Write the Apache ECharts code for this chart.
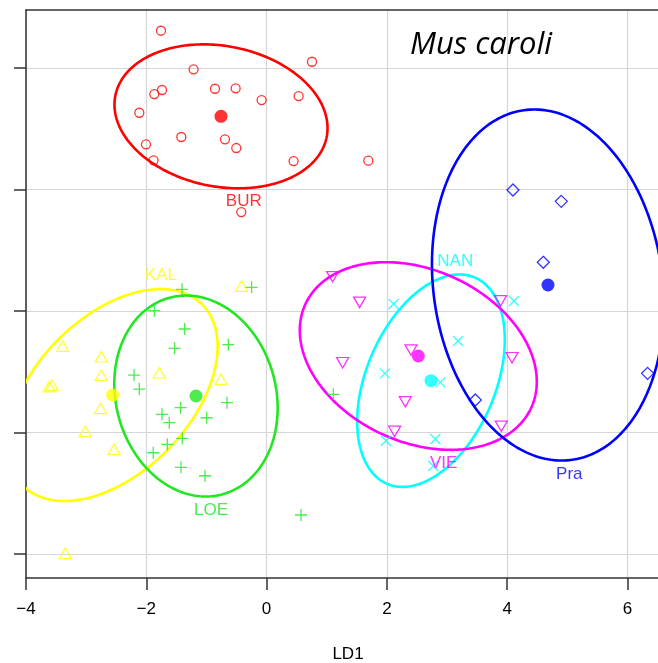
<!DOCTYPE html>
<html>
<head>
<meta charset="utf-8">
<script src="https://cdn.jsdelivr.net/npm/echarts@6/dist/echarts.min.js"></script>
<style>
html,body{margin:0;padding:0;background:#fff;overflow:hidden;}
#chart{width:658px;height:663px;}
</style>
</head>
<body>
<div id="chart"></div>
<script>
// ---- data ----
const groupNames = ['BUR', 'KAL', 'LOE', 'NAN', 'VIE', 'Pra'];

const burX = [-1.756, -1.214, 0.755, -1.867, -1.739, -0.858, -0.515, -0.083, 0.532, -2.116, -1.418, -0.692, -0.504, -2.005, -1.879, 0.449, -0.421, 1.691];
const burY = [4.610, 3.975, 4.100, 3.569, 3.635, 3.656, 3.663, 3.470, 3.536, 3.261, 2.862, 2.824, 2.681, 2.742, 2.479, 2.467, 1.628, 2.472];

const kalX = [-0.416, -3.391, -2.748, -2.748, -1.784, -3.613, -3.568, -0.758, -2.760, -3.014, -2.537, -3.347];
const kalY = [0.411, -0.576, -0.752, -1.053, -1.015, -1.245, -1.222, -1.123, -1.600, -1.979, -2.275, -3.985];

const loeX = [-1.406, -0.249, -1.867, -1.363, -1.530, -0.637, -2.204, -2.116, -1.430, -1.739, -1.618, -0.998, -0.658, -1.401, -1.651, -1.884, -1.423, -1.024, 0.572, 1.109];
const loeY = [0.357, 0.390, 0.005, -0.296, -0.613, -0.554, -1.053, -1.283, -1.590, -1.699, -1.837, -1.755, -1.508, -2.094, -2.192, -2.331, -2.571, -2.709, -3.355, -1.370];

const nanX = [2.111, 4.113, 3.182, 1.968, 2.888, 1.985, 2.805, 2.771];
const nanY = [0.115, 0.164, -0.493, -1.025, -1.173, -2.133, -2.105, -2.550];

const vieX = [1.097, 1.546, 3.890, 2.401, 1.264, 4.080, 2.306, 2.128, 3.902];
const vieY = [0.564, 0.143, 0.169, -0.641, -0.850, -0.768, -1.492, -1.979, -1.896];

const praX = [4.096, 4.899, 4.600, 3.470, 6.334];
const praY = [1.990, 1.804, 0.801, -1.464, -1.025];

// group means (filled dots) and ellipse shape (sd-like half widths, correlation)
const meanX = [-0.758, -2.560, -1.174, 2.733, 2.522, 4.678];
const meanY = [3.202, -1.382, -1.398, -1.146, -0.740, 0.428];
const ellSx = [1.771, 1.746, 1.358, 1.227, 1.970, 1.929];
const ellSy = [1.184, 1.743, 1.653, 1.747, 1.543, 2.887];
const ellRho = [-0.163, 0.458, -0.120, 0.385, -0.273, -0.118];

// group label positions
const labelX = [-0.379, -1.756, -0.924, 3.137, 2.943, 5.032];
const labelY = [1.798, 0.592, -3.285, 0.811, -2.505, -2.686];

const xTicks = [-4, -2, 0, 2, 4, 6];
const yTicks = [-4, -2, 0, 2, 4];
const titleText = 'Mus caroli';
const xName = 'LD1';

// ---- styling ----
const colors = ['#ff0000', '#ffff00', '#22e622', '#00ffff', '#ff00ff', '#0000ff'];
const pointsX = [burX, kalX, loeX, nanX, vieX, praX];
const pointsY = [burY, kalY, loeY, nanY, vieY, praY];
const symbols = [
  'circle',
  'triangle',
  'path://M6,0V12M0,6H12',
  'path://M0,0L10,10M10,0L0,10',
  'path://M0,0L12,0L6,10.4Z',
  'diamond'
];
const symSizes = [9, [12, 10.5], 12, 10, [12, 10.4], 12];

const FONT = '"Liberation Sans", Arial, sans-serif';
const series = [];

// ellipses
groupNames.forEach(function (g, i) {
  series.push({
    type: 'custom',
    name: g + ' ellipse',
    clip: true,
    silent: true,
    z: 2,
    data: [[meanX[i], meanY[i], ellSx[i], ellSy[i], ellRho[i]]],
    encode: { x: 0, y: 1 },
    renderItem: function (params, api) {
      const cx = api.value(0), cy = api.value(1);
      const sx = api.value(2), sy = api.value(3), r = api.value(4);
      const q = Math.sqrt(1 - r * r);
      const pts = [];
      for (let k = 0; k < 240; k++) {
        const t = 2 * Math.PI * k / 240;
        pts.push(api.coord([cx + sx * Math.cos(t), cy + sy * (r * Math.cos(t) + q * Math.sin(t))]));
      }
      return {
        type: 'polygon',
        shape: { points: pts },
        style: { fill: 'none', stroke: colors[i], lineWidth: 2.6 }
      };
    }
  });
});

// points
groupNames.forEach(function (g, i) {
  series.push({
    type: 'scatter',
    name: g,
    z: 3,
    symbol: symbols[i],
    symbolSize: symSizes[i],
    data: pointsX[i].map(function (x, k) { return [x, pointsY[i][k]]; }),
    itemStyle: { color: 'rgba(0,0,0,0)', borderColor: colors[i], borderWidth: 1.3 },
    emphasis: { disabled: true }
  });
});

// group means
series.push({
  type: 'scatter',
  name: 'means',
  z: 4,
  symbol: 'circle',
  symbolSize: 13,
  data: meanX.map(function (x, i) { return { value: [x, meanY[i]], itemStyle: { color: colors[i] } }; }),
  emphasis: { disabled: true }
});

// group labels
series.push({
  type: 'scatter',
  name: 'labels',
  z: 5,
  symbolSize: 0,
  data: labelX.map(function (x, i) {
    return {
      value: [x, labelY[i]],
      name: groupNames[i],
      label: { color: colors[i] }
    };
  }),
  label: {
    show: true,
    position: 'inside',
    formatter: '{b}',
    fontFamily: FONT,
    fontSize: 17
  },
  emphasis: { disabled: true }
});

const chart = echarts.init(document.getElementById('chart'), null, { renderer: 'canvas' });
chart.setOption({
  backgroundColor: '#ffffff',
  animation: false,
  title: {
    text: titleText,
    left: 410,
    top: 30,
    padding: 0,
    textStyle: {
      fontFamily: '"Open Sans", sans-serif',
      fontStyle: 'italic',
      fontWeight: 'normal',
      fontSize: 31,
      color: '#000'
    }
  },
  grid: {
    left: 26, right: 0, top: 10, bottom: 85,
    show: false,
    containLabel: false,
    outerBoundsMode: 'none'
  },
  xAxis: [{
    type: 'value',
    min: -4, max: 6.507,
    name: xName,
    nameLocation: 'middle',
    nameGap: 68,
    nameTextStyle: { fontFamily: FONT, fontSize: 17, color: '#000', padding: [0, 0, 0, 12] },
    axisLine: { show: true, onZero: false, lineStyle: { color: '#333', width: 1.5 } },
    axisTick: { show: true, length: 12, customValues: xTicks, lineStyle: { color: '#333', width: 1.5 } },
    axisLabel: {
      show: true, customValues: xTicks, margin: 23, fontFamily: FONT, fontSize: 17, color: '#000',
      formatter: function (v) { return String(v).replace('-', '\u2212'); }
    },
    splitLine: { show: true, lineStyle: { color: '#d6d6d6', width: 1.2 } }
  }, {
    type: 'value',
    position: 'top',
    min: -4, max: 6.507,
    axisLine: { show: true, onZero: false, lineStyle: { color: '#333', width: 1.5 } },
    axisTick: { show: false },
    axisLabel: { show: false },
    splitLine: { show: false }
  }],
  yAxis: {
    type: 'value',
    min: -4.391, max: 4.951,
    axisLine: { show: true, onZero: false, lineStyle: { color: '#333', width: 1.5 } },
    axisTick: { show: true, length: 12, customValues: yTicks, lineStyle: { color: '#333', width: 1.5 } },
    axisLabel: { show: false, customValues: yTicks },
    splitLine: { show: true, lineStyle: { color: '#d6d6d6', width: 1.2 } }
  },
  series: series
});
</script>
</body>
</html>
